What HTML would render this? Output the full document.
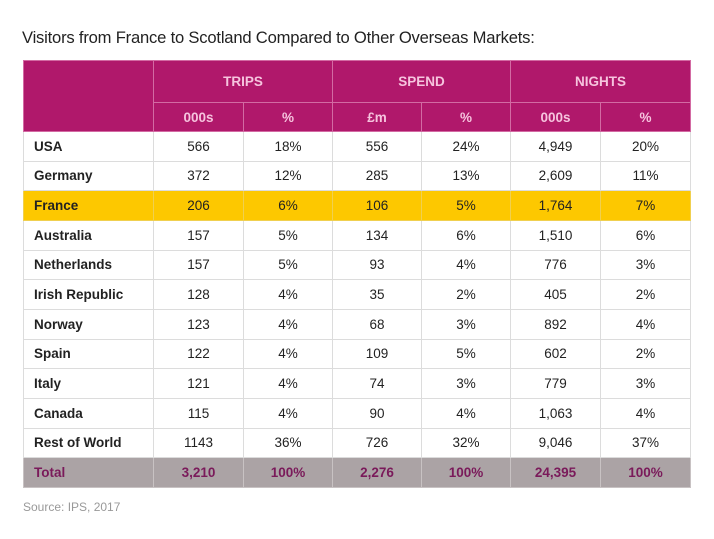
<!DOCTYPE html>
<html><head><style>
body{margin:0;width:714px;height:539px;background:#fff;font-family:"Liberation Sans",sans-serif;position:relative;overflow:hidden}
h1{position:absolute;left:22px;top:28px;margin:0;font-size:16.6px;font-weight:normal;color:#222;letter-spacing:-0.2px}
table{position:absolute;left:23px;top:60px;border-collapse:collapse;font-size:13.5px;color:#222}
td{border:1px solid #dcdcdc;text-align:center;padding:0;height:28.67px}
tr.h td{background:#b0186b;color:#f6c4de;font-weight:bold;border-color:#d36aa3}
tr.h1 td{height:41px}
tr.h2 td{height:28px}
td.l{text-align:left;padding-left:10px;font-weight:bold}
tr.fr td{background:#fdc800;border-color:#f0d050}
tr.tot td{background:#aba3a5;color:#7a1a5a;font-weight:bold;border-color:#c8c2c3}
.src{position:absolute;left:23px;top:500px;font-size:12px;color:#999}
</style></head><body>
<h1>Visitors from France to Scotland Compared to Other Overseas Markets:</h1>
<table>
<colgroup><col style="width:130px"><col style="width:90px"><col style="width:89px"><col style="width:89px"><col style="width:89px"><col style="width:90px"><col style="width:90px"></colgroup>
<tr class="h h1"><td rowspan="2"></td><td colspan="2">TRIPS</td><td colspan="2">SPEND</td><td colspan="2">NIGHTS</td></tr>
<tr class="h h2"><td>000s</td><td>%</td><td>£m</td><td>%</td><td>000s</td><td>%</td></tr>
<tr><td class="l">USA</td><td>566</td><td>18%</td><td>556</td><td>24%</td><td>4,949</td><td>20%</td></tr>
<tr><td class="l">Germany</td><td>372</td><td>12%</td><td>285</td><td>13%</td><td>2,609</td><td>11%</td></tr>
<tr class="fr"><td class="l">France</td><td>206</td><td>6%</td><td>106</td><td>5%</td><td>1,764</td><td>7%</td></tr>
<tr><td class="l">Australia</td><td>157</td><td>5%</td><td>134</td><td>6%</td><td>1,510</td><td>6%</td></tr>
<tr><td class="l">Netherlands</td><td>157</td><td>5%</td><td>93</td><td>4%</td><td>776</td><td>3%</td></tr>
<tr><td class="l">Irish Republic</td><td>128</td><td>4%</td><td>35</td><td>2%</td><td>405</td><td>2%</td></tr>
<tr><td class="l">Norway</td><td>123</td><td>4%</td><td>68</td><td>3%</td><td>892</td><td>4%</td></tr>
<tr><td class="l">Spain</td><td>122</td><td>4%</td><td>109</td><td>5%</td><td>602</td><td>2%</td></tr>
<tr><td class="l">Italy</td><td>121</td><td>4%</td><td>74</td><td>3%</td><td>779</td><td>3%</td></tr>
<tr><td class="l">Canada</td><td>115</td><td>4%</td><td>90</td><td>4%</td><td>1,063</td><td>4%</td></tr>
<tr><td class="l">Rest of World</td><td>1143</td><td>36%</td><td>726</td><td>32%</td><td>9,046</td><td>37%</td></tr>
<tr class="tot"><td class="l">Total</td><td>3,210</td><td>100%</td><td>2,276</td><td>100%</td><td>24,395</td><td>100%</td></tr>
</table>
<div class="src">Source: IPS, 2017</div>
</body></html>
